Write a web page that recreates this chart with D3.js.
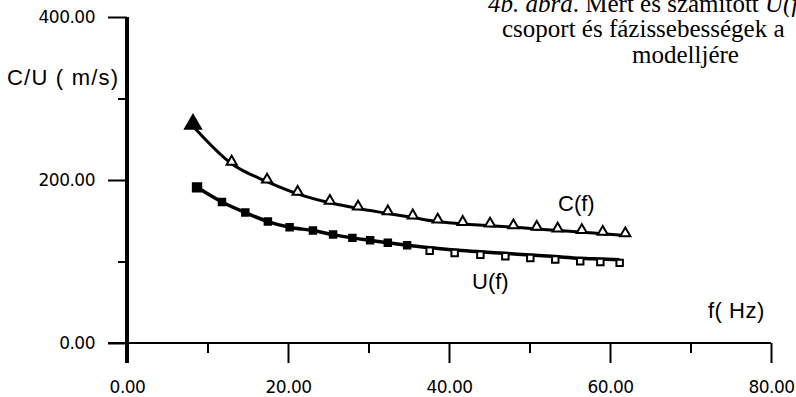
<!DOCTYPE html>
<html>
<head>
<meta charset="utf-8">
<script src="https://cdn.jsdelivr.net/npm/d3@7"></script>
<style>
  body { margin: 0; background: #fff; }
  svg { display: block; }
</style>
</head>
<body>
<div></div>
<script>
// axis ticks
const xTicks = [0, 10, 20, 30, 40, 50, 60, 70, 80];
const xLabels = ["0.00", "", "20.00", "", "40.00", "", "60.00", "", "80.00"];
const yTicks = [0, 100, 200, 300, 400];
const yLabels = ["0.00", "", "200.00", "", "400.00"];

// C(f) phase velocity, triangles
const cFreq = [8.2, 13.0, 17.4, 21.2, 25.2, 28.7, 32.4, 35.5, 38.6, 41.7, 45.1, 48.0, 50.9, 53.5, 56.5, 59.1, 61.9];
const cVal  = [266, 220, 198, 183, 172, 165, 159, 154, 149, 146, 144, 142, 140, 138, 136, 134, 132];

// U(f) group velocity, squares
const uFreq = [8.7, 11.8, 14.7, 17.5, 20.2, 23.1, 25.6, 28.0, 30.2, 32.4, 34.8, 37.6, 40.7, 43.9, 47.0, 50.1, 53.2, 56.3, 58.8, 61.2];
const uVal  = [191, 173, 160, 149, 142, 138, 133, 129, 126, 123, 120, 117, 114, 112, 110, 108, 106, 104, 103, 102];

const titleLines = ["csoport és fázissebességek a", "modelljére"];
const titleX = [502, 632];

const W = 796, H = 397;
const svg = d3.select("div").append("svg").attr("width", W).attr("height", H);

const x = d3.scaleLinear().domain([0, 80]).range([127, 771]);
const y = d3.scaleLinear().domain([0, 400]).range([343, 17]);

const tickFont = "'DejaVu Sans', sans-serif";
const labelFont = "'Liberation Sans', Arial, sans-serif";

// x axis
const xAxis = d3.axisBottom(x).tickValues(xTicks).tickSize(20).tickFormat((d, i) => xLabels[i]);
const gx = svg.append("g").attr("transform", `translate(0,${y(0)})`).call(xAxis);
gx.select(".domain").remove();
gx.selectAll(".tick line")
  .attr("stroke", "#000").attr("stroke-width", 2)
  .attr("y2", (d, i) => xLabels[i] ? 20 : 10);
gx.selectAll(".tick text")
  .attr("y", 44).attr("dy", "0.35em")
  .style("font-family", tickFont).style("font-size", "17px")
  .style("letter-spacing", "-0.5px").attr("fill", "#000");

// y axis
const yAxis = d3.axisLeft(y).tickValues(yTicks).tickSize(19).tickFormat((d, i) => yLabels[i]);
const gy = svg.append("g").attr("transform", `translate(${x(0)},0)`).call(yAxis);
gy.select(".domain").remove();
gy.selectAll(".tick line")
  .attr("stroke", "#000").attr("stroke-width", 2)
  .attr("x2", (d, i) => yLabels[i] ? -19 : -9);
gy.selectAll(".tick text")
  .attr("x", -32).attr("dy", "0.35em")
  .style("font-family", tickFont).style("font-size", "17px")
  .style("letter-spacing", "-0.5px").attr("fill", "#000");

// axis lines (cross each other)
svg.append("line")
  .attr("x1", x(0) - 19).attr("x2", x(80))
  .attr("y1", y(0)).attr("y2", y(0))
  .attr("stroke", "#000").attr("stroke-width", 2);
svg.append("line")
  .attr("x1", x(0)).attr("x2", x(0))
  .attr("y1", y(400)).attr("y2", y(0) + 20)
  .attr("stroke", "#000").attr("stroke-width", 4);

// curves
const line = d3.line().x(d => x(d[0])).y(d => y(d[1])).curve(d3.curveMonotoneX);
const cData = cFreq.map((f, i) => [f, cVal[i]]);
const uData = uFreq.map((f, i) => [f, uVal[i]]);

svg.append("path").datum(cData).attr("d", line)
  .attr("fill", "none").attr("stroke", "#000").attr("stroke-width", 3);
svg.append("path").datum(uData).attr("d", line)
  .attr("fill", "none").attr("stroke", "#000").attr("stroke-width", 3.5);

// markers
svg.append("g").selectAll("path").data(cData).enter().append("path")
  .attr("d", (d, i) => d3.symbol(d3.symbolTriangle, i === 0 ? 110 : 45)())
  .attr("transform", d => `translate(${x(d[0])},${y(d[1]) - 2})`)
  .attr("fill", (d, i) => i === 0 ? "#000" : "#fff")
  .attr("stroke", "#000").attr("stroke-width", 2);

svg.append("g").selectAll("path").data(uData).enter().append("path")
  .attr("d", (d, i) => d3.symbol(d3.symbolSquare, i === 0 ? 70 : 42)())
  .attr("transform", (d, i) => `translate(${x(d[0])},${y(d[1]) + (i < 11 ? 0 : 3)})`)
  .attr("fill", (d, i) => i < 11 ? "#000" : "#fff")
  .attr("stroke", "#000").attr("stroke-width", 2);

// labels
svg.append("text").attr("x", 7).attr("y", 85)
  .style("font-family", labelFont).style("font-size", "22px").style("letter-spacing", "1.2px")
  .text("C/U ( m/s)");
svg.append("text").attr("x", 708).attr("y", 318)
  .style("font-family", labelFont).style("font-size", "22px").style("letter-spacing", "0.5px")
  .text("f( Hz)");
svg.append("text").attr("x", 558).attr("y", 211)
  .style("font-family", labelFont).style("font-size", "22px")
  .text("C(f)");
svg.append("text").attr("x", 472).attr("y", 289)
  .style("font-family", labelFont).style("font-size", "22px")
  .text("U(f)");

// caption (top right, cut by the edge as in the scan)
const serif = "'Liberation Serif', 'Times New Roman', serif";
const cap = svg.append("text").attr("x", 488).attr("y", 12)
  .style("font-family", serif).style("font-size", "25px");
cap.append("tspan").style("font-style", "italic").text("4b. ábra");
cap.append("tspan").text(". Mért és számított ");
cap.append("tspan").style("font-style", "italic").text("U(f)");

svg.selectAll(".caption").data(titleLines).enter().append("text")
  .attr("class", "caption")
  .attr("x", (d, i) => titleX[i])
  .attr("y", (d, i) => 37 + i * 26)
  .style("font-family", serif).style("font-size", "25px")
  .text(d => d);
</script>
</body>
</html>
